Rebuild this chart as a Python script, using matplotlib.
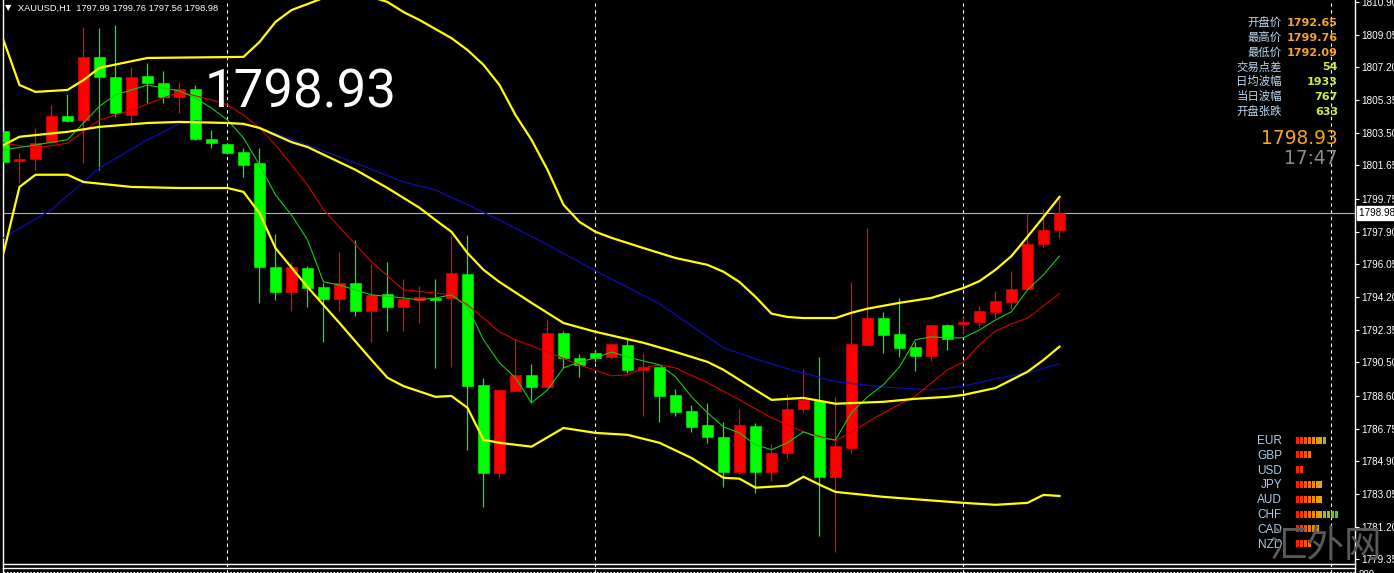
import matplotlib
matplotlib.use('Agg')
import matplotlib.pyplot as plt
import matplotlib.transforms as mtransforms
from matplotlib.lines import Line2D
from matplotlib.patches import Rectangle

plt.rcParams['font.family'] = ['Liberation Sans', 'DejaVu Sans']

# --- candles (XAUUSD H1), red = up, green = down ---
opens = [1803.60, 1801.90, 1802.01, 1802.97, 1804.44, 1804.22, 1807.79, 1806.65, 1804.50, 1806.70,
         1806.31, 1805.53, 1805.97, 1803.15, 1802.85, 1802.40, 1801.79, 1795.90, 1794.48, 1795.85,
         1794.76, 1794.09, 1794.99, 1793.42, 1794.37, 1793.64, 1794.03, 1794.15, 1794.15, 1795.51,
         1789.23, 1784.24, 1788.88, 1789.79, 1789.10, 1792.17, 1790.74, 1791.02, 1790.80, 1791.49,
         1790.07, 1790.24, 1788.65, 1787.76, 1786.95, 1786.28, 1784.30, 1786.90, 1784.30, 1785.38,
         1787.87, 1788.32, 1784.02, 1785.66, 1791.49, 1793.01, 1792.11, 1791.38, 1790.86, 1792.61,
         1792.65, 1792.78, 1793.36, 1793.92, 1794.65, 1797.21, 1797.99]
highs = [1804.89, 1802.35, 1803.77, 1805.08, 1805.69, 1809.49, 1809.43, 1809.60, 1807.23, 1807.45,
         1806.98, 1806.37, 1806.20, 1803.66, 1802.91, 1802.63, 1802.63, 1797.77, 1796.18, 1795.96,
         1794.99, 1796.74, 1797.44, 1796.07, 1796.18, 1795.23, 1794.82, 1795.23, 1797.66, 1797.72,
         1789.62, 1788.93, 1791.83, 1790.41, 1792.95, 1792.28, 1790.97, 1791.21, 1791.55, 1791.89,
         1791.02, 1790.24, 1788.99, 1788.09, 1788.20, 1787.12, 1787.87, 1787.06, 1785.89, 1788.71,
         1790.13, 1790.80, 1788.54, 1795.04, 1798.11, 1793.35, 1794.15, 1791.66, 1792.61, 1792.67,
         1793.06, 1793.70, 1794.54, 1795.68, 1798.95, 1799.19, 1799.76]
lows = [1800.65, 1800.65, 1801.40, 1802.91, 1804.10, 1801.79, 1801.40, 1804.39, 1803.94, 1805.19,
        1805.19, 1804.61, 1803.10, 1802.63, 1802.28, 1800.98, 1793.87, 1794.03, 1793.42, 1793.64,
        1791.66, 1793.42, 1793.12, 1791.66, 1792.28, 1792.28, 1792.73, 1790.18, 1790.24, 1785.55,
        1782.32, 1783.96, 1788.88, 1788.20, 1789.10, 1790.18, 1789.68, 1790.52, 1790.69, 1789.90,
        1787.48, 1787.12, 1787.48, 1786.56, 1785.94, 1783.46, 1784.19, 1783.10, 1783.79, 1785.08,
        1787.70, 1780.67, 1779.78, 1785.38, 1791.49, 1791.02, 1790.80, 1790.02, 1790.58, 1791.21,
        1792.09, 1792.50, 1793.01, 1793.53, 1794.65, 1797.02, 1797.56]
closes = [1801.84, 1802.01, 1802.91, 1804.44, 1804.16, 1807.79, 1806.65, 1804.61, 1806.65, 1806.31,
          1805.53, 1805.97, 1803.15, 1802.91, 1802.35, 1801.68, 1795.90, 1794.48, 1795.90, 1794.71,
          1794.09, 1794.99, 1793.42, 1794.31, 1793.64, 1794.09, 1794.20, 1794.03, 1795.57, 1789.16,
          1784.24, 1788.93, 1789.79, 1789.10, 1792.17, 1790.74, 1790.35, 1790.74, 1791.55, 1790.07,
          1790.24, 1788.60, 1787.70, 1786.84, 1786.28, 1784.30, 1786.95, 1784.30, 1785.38, 1787.87,
          1788.37, 1784.02, 1785.78, 1791.55, 1793.01, 1792.05, 1791.33, 1790.86, 1792.61, 1791.83,
          1792.78, 1793.42, 1793.98, 1794.65, 1797.21, 1797.99, 1798.98]

# --- indicator lines (bar index, price) ---
upper_idx = [0, 1, 2, 4, 5, 6, 9, 15, 16, 17, 18, 19, 20, 21, 22, 23, 24, 25, 26, 28, 29, 30, 31, 32, 33,
             34, 35, 36, 37, 38, 40, 42, 44, 45, 46, 47, 48, 49, 50, 52, 53, 54, 56, 58, 60, 61, 62, 63,
             64, 65, 66]
upper_val = [1808.74, 1806.20, 1805.81, 1805.92, 1806.48, 1807.17, 1807.73, 1807.79, 1808.63, 1809.77,
             1810.44, 1810.78, 1811.13, 1811.36, 1811.36, 1811.18, 1810.90, 1810.33, 1809.88, 1808.85,
             1808.18, 1807.34, 1806.20, 1804.50, 1803.10, 1801.40, 1799.42, 1798.45, 1797.89, 1797.55,
             1796.97, 1796.41, 1796.02, 1795.63, 1795.05, 1794.21, 1793.26, 1793.07, 1793.01, 1793.01,
             1793.31, 1793.54, 1793.87, 1794.15, 1794.71, 1795.10, 1795.74, 1796.52, 1797.61, 1798.73,
             1799.87]
mid_idx = [0, 1, 4, 6, 9, 11, 14, 15, 16, 18, 19, 22, 24, 26, 27, 28, 29, 30, 31, 33, 35, 37, 40, 42, 44,
           45, 47, 48, 50, 52, 55, 57, 59, 60, 62, 64, 65, 66]
mid_val = [1802.80, 1803.27, 1803.55, 1803.83, 1804.05, 1804.11, 1804.05, 1804.00, 1803.77, 1802.97,
           1802.69, 1801.40, 1800.37, 1799.25, 1798.56, 1797.89, 1796.69, 1795.74, 1795.05, 1793.87,
           1792.73, 1792.23, 1791.61, 1791.09, 1790.53, 1790.08, 1788.94, 1788.38, 1788.49, 1788.16,
           1788.27, 1788.44, 1788.55, 1788.66, 1789.05, 1789.97, 1790.64, 1791.39]
lower_idx = [0, 1, 2, 4, 5, 8, 11, 14, 15, 16, 17, 19, 21, 23, 24, 25, 27, 28, 29, 30, 31, 33, 35, 37, 39,
             41, 43, 45, 46, 47, 49, 50, 51, 52, 55, 60, 62, 64, 65, 66]
lower_val = [1796.69, 1800.43, 1801.12, 1801.12, 1800.71, 1800.43, 1800.37, 1800.37, 1800.15, 1798.95,
             1796.97, 1794.77, 1792.73, 1790.64, 1789.63, 1789.16, 1788.55, 1788.60, 1787.93, 1786.12,
             1785.95, 1785.73, 1786.79, 1786.51, 1786.40, 1785.95, 1785.09, 1783.97, 1783.92, 1783.41,
             1783.52, 1784.03, 1783.58, 1783.17, 1782.89, 1782.55, 1782.44, 1782.55, 1783.00, 1782.94]
blue_idx = [0, 3, 6, 9, 11, 12, 14, 16, 19, 22, 25, 27, 29, 31, 34, 37, 41, 45, 47, 49, 52, 55, 58, 60,
            62, 64, 66]
blue_val = [1797.55, 1799.14, 1801.51, 1803.10, 1804.00, 1804.16, 1804.05, 1803.77, 1802.80, 1801.79,
            1800.71, 1800.26, 1799.42, 1798.56, 1797.16, 1795.68, 1793.82, 1791.33, 1790.70, 1790.14,
            1789.41, 1789.11, 1788.94, 1789.16, 1789.58, 1789.91, 1790.42]
red_idx = [0, 2, 4, 6, 8, 11, 13, 14, 15, 16, 17, 19, 20, 23, 25, 27, 28, 29, 31, 32, 34, 36, 38, 39, 40,
           41, 42, 44, 46, 48, 50, 52, 53, 55, 57, 59, 60, 61, 62, 63, 64, 65, 66]
red_val = [1802.91, 1802.63, 1802.91, 1804.22, 1804.78, 1805.81, 1805.36, 1805.08, 1804.50, 1803.77,
           1802.80, 1800.54, 1799.14, 1796.19, 1794.60, 1794.43, 1794.32, 1793.76, 1792.23, 1791.78,
           1791.09, 1790.36, 1789.74, 1789.80, 1790.19, 1790.36, 1790.19, 1789.35, 1788.38, 1787.37,
           1786.57, 1786.06, 1786.57, 1787.65, 1788.60, 1790.08, 1790.53, 1791.50, 1792.28, 1792.68,
           1793.01, 1793.70, 1794.38]
green_idx = [0, 4, 5, 6, 7, 9, 10, 11, 12, 13, 14, 15, 16, 17, 18, 19, 20, 21, 23, 25, 26, 27, 28, 29,
             30, 31, 32, 33, 34, 35, 36, 37, 38, 39, 40, 41, 42, 43, 44, 45, 46, 47, 48, 49, 50, 51, 52,
             53, 54, 55, 56, 57, 58, 59, 60, 61, 62, 63, 64, 65, 66]
green_val = [1802.52, 1803.10, 1804.05, 1805.00, 1805.64, 1806.20, 1806.03, 1805.86, 1805.47, 1804.89,
             1804.22, 1803.21, 1801.68, 1799.98, 1798.84, 1797.44, 1795.05, 1794.88, 1794.32, 1794.15,
             1794.04, 1794.15, 1794.32, 1793.65, 1791.78, 1790.47, 1789.63, 1788.21, 1788.94, 1790.19,
             1790.53, 1790.75, 1791.09, 1790.81, 1790.58, 1790.36, 1789.69, 1788.55, 1787.65, 1786.85,
             1786.51, 1785.84, 1785.56, 1785.95, 1786.57, 1786.23, 1786.12, 1787.65, 1788.55, 1789.24,
             1790.25, 1791.78, 1791.95, 1791.89, 1791.89, 1792.34, 1792.90, 1793.37, 1794.60, 1795.46,
             1796.52]

# price scale labels on the right
tick_vals = [1810.90, 1809.05, 1807.20, 1805.35, 1803.50, 1801.65, 1799.75, 1797.90, 1796.05,
             1794.20, 1792.35, 1790.50, 1788.60, 1786.75, 1784.90, 1783.05, 1781.20, 1779.35]
grid_bars = [14, 37, 60, 83]
bid = 1798.98
ask_big = '1798.93'
clock = '17:47'

info_labels = ['开盘价', '最高价', '最低价', '交易点差', '日均波幅', '当日波幅', '开盘张跌']
info_values = ['1792.65', '1799.76', '1792.09', '54', '1933', '767', '633']
info_colors = ['#f5a526', '#f5a526', '#f5a526', '#c8f04a', '#c8f04a', '#c8f04a', '#c8f04a']

currencies = ['EUR', 'GBP', 'USD', 'JPY', 'AUD', 'CHF', 'CAD', 'NZD']
strength = [8, 4, 2, 7, 7, 11, 6, 4]
seg_colors = ['#ff1e00', '#ff3200', '#ff5000', '#fa6e00', '#f08a00', '#e89c00', '#d8ae00',
              '#b8b400', '#98bc10', '#78c414', '#58c81e', '#3cd028']

W, H = 1394, 573
fig = plt.figure(figsize=(W / 100, H / 100), dpi=100, facecolor='black')
ax = fig.add_axes([3 / W, 9 / H, 1352 / W, 564 / H], facecolor='black')


def fx(x):
    return x / W


def fy(y):
    return 1 - y / H


ax.set_xlim(-0.03, 84.47)
ax.set_ylim(1779.09, 1811.01)

for g in grid_bars:
    ax.axvline(g, ymin=-9 / 564, ymax=1, color='white', lw=0.8, ls=(0, (3, 3)), clip_on=False, zorder=1)
ax.axhline(bid, color='#b4b4b4', lw=0.8, zorder=1)

for i in range(len(opens)):
    o, h, l, c = opens[i], highs[i], lows[i], closes[i]
    col = '#ff0000' if c >= o else '#00ff00'
    ax.vlines(i, l, h, color=col, lw=0.9, zorder=2)
    ax.bar(i, max(abs(c - o), 0.03), bottom=min(o, c), width=0.66, color=col,
           edgecolor=col, lw=0.4, zorder=3)

ax.plot(blue_idx, blue_val, color='#0c0cb4', lw=0.9, zorder=4)
ax.plot(red_idx, red_val, color='#d40000', lw=0.8, zorder=5)
ax.plot(green_idx, green_val, color='#18c818', lw=0.8, zorder=5)
for xs, ys in [(upper_idx, upper_val), (mid_idx, mid_val), (lower_idx, lower_val)]:
    ax.plot(xs, ys, color='#ffff00', lw=1.6, zorder=6, solid_joinstyle='round')

for s in ['left', 'bottom', 'right']:
    ax.spines[s].set_color('white')
    ax.spines[s].set_linewidth(1.0)
ax.spines['top'].set_visible(False)
ax.set_xticks([])
ax.yaxis.tick_right()
ax.set_yticks(tick_vals)
ax.set_yticklabels([f'{v:.2f}' for v in tick_vals])
ax.tick_params(axis='y', colors='white', labelsize=7.2, length=3, width=0.8, pad=1.5, direction='out')

trans = mtransforms.blended_transform_factory(ax.transAxes, ax.transData)
ax.text(1.003, bid, f'{bid:.2f}   ', transform=trans, ha='left', va='center', fontsize=7.2,
        color='black', bbox=dict(boxstyle='square,pad=0.2', fc='white', ec='white'),
        zorder=10, clip_on=False)

# window borders below the chart
fig.add_artist(Line2D([fx(3), fx(1355)], [fy(567.5), fy(567.5)], color='white', lw=1.0))
fig.add_artist(Line2D([fx(3), fx(1355)], [fy(571.5), fy(571.5)], color='white', lw=0.8, ls=(0, (1.5, 1.5))))
fig.add_artist(Line2D([fx(3), fx(3)], [fy(564), fy(573)], color='white', lw=1.0))
fig.add_artist(Line2D([fx(1355), fx(1355)], [fy(564), fy(573)], color='white', lw=1.0))
fig.text(fx(1359), fy(569.5), '800', fontsize=7, color='white', va='top')

# header
fig.text(fx(5), fy(10), '▼', fontsize=6, color='white', family='DejaVu Sans', va='baseline')
fig.text(fx(18), fy(10.5),
         f'XAUUSD,H1  {opens[-1]:.2f} {highs[-1]:.2f} {lows[-1]:.2f} {closes[-1]:.2f}',
         fontsize=6.7, color='white', va='baseline')

# big price on chart
fig.text(fx(205), fy(108), ask_big, fontsize=38, color='white', va='baseline',
         family=['Roboto', 'DejaVu Sans'])

# info panel top right
for k, (lab, val, vc) in enumerate(zip(info_labels, info_values, info_colors)):
    yb = 26 + 14.8 * k
    fig.text(fx(1282), fy(yb), lab, fontsize=8.2, color='#bcd8f0', ha='right', va='baseline',
             family=['Noto Sans CJK SC', 'DejaVu Sans'])
    fig.text(fx(1338), fy(yb), val, fontsize=8, color=vc, ha='right', va='baseline',
             family='DejaVu Sans', fontweight='bold')
fig.text(fx(1338), fy(144), ask_big, fontsize=13.4, color='#f5a526', ha='right', va='baseline',
         family='DejaVu Sans')
fig.text(fx(1338), fy(164), clock, fontsize=13.4, color='#8c8c8c', ha='right', va='baseline',
         family='DejaVu Sans')

# currency strength panel
for k, (cur, n) in enumerate(zip(currencies, strength)):
    yb = 444 + 14.8 * k
    fig.text(fx(1282), fy(yb), cur, fontsize=8.5, color='#a8cce8', ha='right', va='baseline')
    for j in range(n):
        x0 = 1296 + 3.9 * j
        fig.add_artist(Rectangle((fx(x0), fy(yb - 0.5)), 3 / W, 7 / H, color=seg_colors[j], lw=0))

fig.text(fx(1326), fy(546), '汇外网', fontsize=27, color='#5a5a5a', ha='center', va='center',
         family=['Noto Sans CJK SC', 'DejaVu Sans'], fontweight='light')

fig.savefig('out.png', dpi=100, facecolor='black')
